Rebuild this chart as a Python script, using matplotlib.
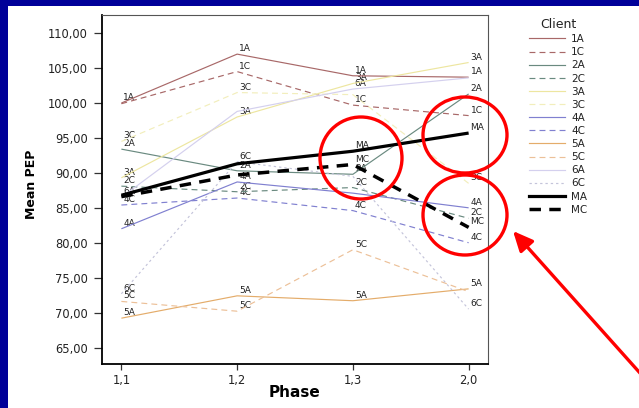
import numpy as np
import matplotlib.pyplot as plt
from matplotlib.lines import Line2D
from matplotlib.patches import Rectangle, Ellipse, FancyArrowPatch

plt.rcParams["font.family"] = ["DejaVu Sans"]

# data
phases = ["1,1", "1,2", "1,3", "2,0"]
clients = ["1A", "1C", "2A", "2C", "3A", "3C", "4A", "4C",
           "5A", "5C", "6A", "6C", "MA", "MC"]
pep_1A = [100.0, 107.0, 103.9, 103.7]
pep_1C = [99.9, 104.5, 99.7, 98.2]
pep_2A = [93.4, 90.3, 89.8, 101.3]
pep_2C = [88.1, 87.3, 87.9, 83.5]
pep_3A = [89.3, 98.0, 102.8, 105.8]
pep_3C = [94.5, 101.5, 101.2, 88.5]
pep_4A = [82.0, 88.7, 87.1, 85.0]
pep_4C = [85.4, 86.4, 84.6, 80.0]
pep_5A = [69.2, 72.4, 71.7, 73.4]
pep_5C = [71.6, 70.2, 79.0, 73.0]
pep_6A = [86.5, 98.8, 102.0, 103.6]
pep_6C = [72.7, 91.6, 89.5, 70.5]
pep_MA = [86.8, 91.3, 93.1, 95.7]
pep_MC = [86.6, 89.7, 91.2, 82.2]
yticks = [65, 70, 75, 80, 85, 90, 95, 100, 105, 110]

series = [pep_1A, pep_1C, pep_2A, pep_2C, pep_3A, pep_3C, pep_4A,
          pep_4C, pep_5A, pep_5C, pep_6A, pep_6C, pep_MA, pep_MC]

# line styles per client
thin = 0.85
dash = (0, (5, 3.5))
styles = {
    "1A": dict(color="#a86868", lw=thin, ls="-"),
    "1C": dict(color="#a86868", lw=thin, ls=dash),
    "2A": dict(color="#6a8a80", lw=thin, ls="-"),
    "2C": dict(color="#6a8a80", lw=thin, ls=dash),
    "3A": dict(color="#ede6a0", lw=thin, ls="-"),
    "3C": dict(color="#f2eebc", lw=thin, ls=dash),
    "4A": dict(color="#8080d0", lw=thin, ls="-"),
    "4C": dict(color="#8080d0", lw=thin, ls=dash),
    "5A": dict(color="#e4ac6a", lw=thin, ls="-"),
    "5C": dict(color="#ecc098", lw=thin, ls=dash),
    "6A": dict(color="#d4d0ee", lw=thin, ls="-"),
    "6C": dict(color="#c4c4da", lw=thin, ls=(0, (2, 2.5))),
    "MA": dict(color="black", lw=2.3, ls="-"),
    "MC": dict(color="black", lw=2.5, ls=(0, (3.3, 2.4))),
}

# labels that are covered in the original
hidden = {("1C", 0), ("MA", 0), ("MC", 0), ("6A", 1), ("MA", 1), ("MC", 1),
          ("3C", 2), ("4A", 2), ("6C", 2), ("6A", 3), ("5C", 3)}

fig = plt.figure(figsize=(6.39, 4.08), dpi=100, facecolor="#000099")
fig.patches.append(Rectangle((8 / 639, 0), 1, 1 - 6 / 408, transform=fig.transFigure,
                             facecolor="white", edgecolor="none", zorder=-5))

ax = fig.add_axes([101.7 / 639, 1 - 364.3 / 408, 386.6 / 639, 349.3 / 408])
ax.set_facecolor("white")

x = np.arange(len(phases))
for name, vals in zip(clients, series):
    st = styles[name]
    z = 4 if name in ("MA", "MC") else 2
    ax.plot(x, vals, color=st["color"], lw=st["lw"], linestyle=st["ls"], zorder=z,
            label=name, solid_capstyle="butt")
    for i, v in enumerate(vals):
        if (name, i) in hidden:
            continue
        ax.annotate(name, (x[i], v), xytext=(2, 5.5), textcoords="offset pixels",
                    ha="left", va="center", fontsize=6.5, color="#222222", zorder=1.5)

ax.set_xlim(-0.17, 3.17)
ax.set_ylim(62.6, 112.6)
ax.set_xticks(x)
ax.set_xticklabels(phases)
ax.set_yticks(yticks)
ax.set_yticklabels([f"{t},00" for t in yticks])
ax.tick_params(axis="both", labelsize=8.3, labelcolor="#222222", color="#333333",
               direction="out", width=0.9)
ax.tick_params(axis="y", length=6, pad=4)
ax.tick_params(axis="x", length=4.5, pad=2.5)

for side in ("left", "bottom"):
    ax.spines[side].set_linewidth(1.3)
    ax.spines[side].set_color("black")
for side in ("top", "right"):
    ax.spines[side].set_linewidth(0.8)
    ax.spines[side].set_color("#555555")

ax.set_xlabel("Phase", fontsize=11, fontweight="bold", labelpad=-1.5)
ax.set_ylabel("Mean PEP", fontsize=9, fontweight="bold")
ax.yaxis.set_label_coords(-0.165, 0.516)

# legend
handles = [Line2D([], [], color=styles[n]["color"], lw=styles[n]["lw"],
                  linestyle=styles[n]["ls"]) for n in clients]
leg = fig.legend(handles, clients, title="Client", loc="upper left",
                 bbox_to_anchor=(529 / 639, 1 - 18 / 408), frameon=False,
                 fontsize=7.5, title_fontsize=9, handlelength=3.5,
                 handletextpad=0.55, labelspacing=0.3, borderpad=0, borderaxespad=0)
for t in leg.get_texts():
    t.set_color("#222222")
leg.get_title().set_color("#222222")

# red annotations
red = "#ff0000"
for cx, cy, rx, ry in [(361, 158, 41, 41), (465, 135, 42, 38), (465, 215, 42, 40)]:
    fig.patches.append(Ellipse((cx / 639, 1 - cy / 408), 2 * rx / 639, 2 * ry / 408,
                               transform=fig.transFigure, fill=False,
                               edgecolor=red, lw=2.4, zorder=10))
arrow = FancyArrowPatch((648 / 639, 1 - 382 / 408), (513 / 639, 1 - 231 / 408),
                        transform=fig.transFigure, color=red, lw=2.4,
                        arrowstyle="-|>,head_length=1.2,head_width=0.55",
                        mutation_scale=10, shrinkA=0, shrinkB=0, zorder=10)
fig.patches.append(arrow)

fig.savefig("out.png", dpi=100, facecolor=fig.get_facecolor())
